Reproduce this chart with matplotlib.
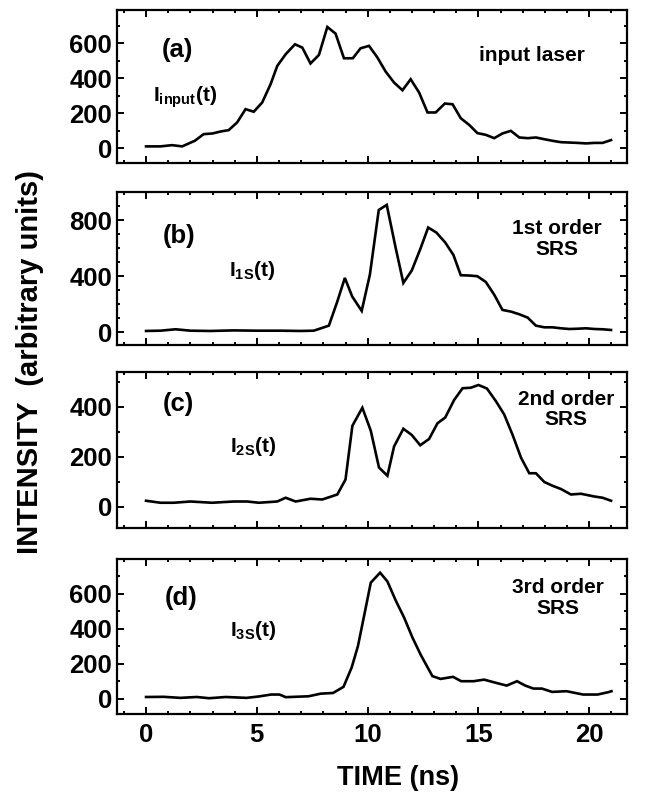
import matplotlib
matplotlib.use("Agg")
import matplotlib.pyplot as plt
from matplotlib.ticker import MultipleLocator

plt.rcParams['font.family'] = ['Liberation Sans', 'DejaVu Sans']
plt.rcParams['font.weight'] = 'bold'
plt.rcParams['mathtext.fontset'] = 'custom'
plt.rcParams['mathtext.rm'] = 'Liberation Sans:bold'
plt.rcParams['mathtext.it'] = 'Liberation Sans:bold'
plt.rcParams['mathtext.bf'] = 'Liberation Sans:bold'

# ---- data (time in ns, intensity in arbitrary units) ----
t_input = [0, 0.65, 1.17, 1.63, 2.2, 2.6, 3.0, 3.36, 3.73, 4.11, 4.49, 4.86, 5.24, 5.62, 5.92,
           6.3, 6.72, 7.05, 7.42, 7.8, 8.18, 8.55, 8.93, 9.33, 9.68, 10.06, 10.44, 10.81, 11.19,
           11.57, 11.94, 12.32, 12.7, 13.07, 13.48, 13.83, 14.2, 14.58, 14.95, 15.33, 15.71,
           16.08, 16.46, 16.84, 17.22, 17.59, 17.97, 18.34, 18.72, 19.1, 19.47, 19.85, 20.23,
           20.6, 20.98]
I_input = [10, 10, 17, 10, 42, 80, 84, 95, 103, 147, 223, 208, 261, 366, 470,
           537, 594, 575, 484, 533, 693, 655, 514, 514, 571, 585, 518, 438, 375,
           331, 394, 318, 204, 204, 255, 251, 171, 133, 86, 76, 57,
           84, 99, 61, 57, 61, 51, 42, 34, 32, 30, 27, 30,
           30, 46]

t_1s = [0, 0.65, 1.33, 2.0, 2.9, 3.96, 5.0, 6.07, 6.97, 7.57, 8.25, 8.63, 8.97, 9.3, 9.73,
        10.1, 10.5, 10.86, 11.26, 11.61, 11.99, 12.37, 12.73, 13.1, 13.5, 13.87, 14.2, 14.58,
        14.95, 15.33, 15.71, 16.08, 16.46, 16.84, 17.22, 17.59, 17.97, 18.34, 18.72, 19.1,
        19.47, 19.85, 20.23, 20.6, 20.98]
I_1s = [10, 12, 22, 12, 10, 14, 12, 12, 10, 12, 48, 220, 388, 256, 153,
        412, 872, 908, 604, 352, 441, 592, 747, 711, 640, 551, 407, 405,
        400, 359, 268, 160, 148, 129, 105, 48, 36, 36, 29, 24,
        26, 29, 24, 22, 17]

t_2s = [0, 0.65, 1.25, 2.0, 2.98, 3.96, 4.56, 5.09, 5.92, 6.3, 6.75, 7.42, 7.95, 8.63, 9.0,
        9.31, 9.76, 10.14, 10.51, 10.89, 11.19, 11.61, 11.99, 12.37, 12.77, 13.15, 13.5, 13.9,
        14.28, 14.65, 15.0, 15.38, 15.78, 16.16, 16.54, 16.92, 17.29, 17.59, 17.97, 18.34,
        18.72, 19.17, 19.62, 20.23, 20.6, 20.98]
I_2s = [25, 17, 17, 22, 17, 22, 22, 17, 22, 37, 22, 33, 30, 50, 110,
        325, 397, 305, 158, 125, 242, 313, 288, 247, 272, 335, 358, 428,
        475, 477, 488, 474, 424, 370, 288, 197, 135, 135, 100, 85,
        72, 50, 53, 42, 37, 25]

t_3s = [0, 0.8, 1.55, 2.29, 2.85, 3.6, 4.53, 5.09, 5.64, 6.02, 6.3, 7.33, 7.88, 8.44, 8.91,
        9.28, 9.56, 9.76, 10.14, 10.56, 10.89, 11.27, 11.64, 12.02, 12.4, 12.92, 13.29, 13.85,
        14.22, 14.78, 15.25, 15.9, 16.27, 16.74, 17.11, 17.48, 17.86, 18.32, 18.97, 19.72,
        20.37, 20.84, 21.0]
I_3s = [11, 12, 6, 11, 4, 11, 6, 14, 25, 25, 10, 15, 30, 34, 69,
        180, 301, 425, 663, 720, 670, 560, 465, 350, 250, 130, 114, 126,
        101, 101, 110, 88, 76, 101, 76, 59, 59, 40, 44, 25,
        25, 38, 44]

panel_tags = ["(a)", "(b)", "(c)", "(d)"]
panel_titles = ["input laser", "1st order\nSRS", "2nd order\nSRS", "3rd order\nSRS"]
trace_labels = [r"$\mathrm{I_{input}(t)}$", r"$\mathrm{I_{1S}(t)}$",
                r"$\mathrm{I_{2S}(t)}$", r"$\mathrm{I_{3S}(t)}$"]
x_ticks = [0, 5, 10, 15, 20]

series = [(t_input, I_input), (t_1s, I_1s), (t_2s, I_2s), (t_3s, I_3s)]

# layout / style
W, H = 649, 792
fig = plt.figure(figsize=(W / 100, H / 100), dpi=100)
left, right = 117 / W, 627 / W
boxes = [(10, 163), (192, 345), (372, 528), (559, 714)]
ylims = [(-85, 790), (-90, 1000), (-84, 540), (-86, 798)]
ymajor = [200, 400, 200, 200]
yminor = [100, 100, 100, 100]
tag_pos = [(1.4, 560), (1.5, 690), (1.45, 413), (1.6, 577)]
title_pos = [(17.4, 530), (18.55, 665), (18.95, 390), (18.6, 575)]
lab_pos = [(0.3, 290), (3.75, 440), (3.8, 240), (3.8, 390)]

for i, (tt, vv) in enumerate(series):
    top, bot = boxes[i]
    ax = fig.add_axes([left, 1 - bot / H, right - left, (bot - top) / H])
    ax.plot(tt, vv, color='black', lw=1.9, solid_joinstyle='miter')
    ax.set_xlim(-1.31, 21.7)
    ax.set_ylim(*ylims[i])
    ax.xaxis.set_major_locator(MultipleLocator(5))
    ax.xaxis.set_minor_locator(MultipleLocator(1))
    ax.yaxis.set_major_locator(MultipleLocator(ymajor[i]))
    ax.yaxis.set_minor_locator(MultipleLocator(yminor[i]))
    ax.tick_params(which='both', direction='in', top=True, right=True, width=1.4,
                   labelsize=18.5, pad=3.5)
    ax.tick_params(which='major', length=5)
    ax.tick_params(which='minor', length=2.2)
    for s in ax.spines.values():
        s.set_linewidth(1.6)
    if i < 3:
        ax.set_xticklabels([])
    else:
        ax.set_xticks(x_ticks)
        ax.tick_params(axis='x', pad=6.5)
    for lab in ax.get_yticklabels() + ax.get_xticklabels():
        lab.set_fontweight('bold')
    ax.text(*tag_pos[i], panel_tags[i], fontsize=18.5, fontweight='bold', ha='center', va='center')
    ax.text(*title_pos[i], panel_titles[i], fontsize=15, fontweight='bold', ha='center',
            va='center', linespacing=1.1)
    ax.text(*lab_pos[i], trace_labels[i], fontsize=15, ha='left', va='center')

fig.text(398 / W, 1 - 778 / H, "TIME (ns)", fontsize=19.5, fontweight='bold', ha='center', va='center')
fig.text(30 / W, 1 - 362 / H, "INTENSITY  (arbitrary units)", fontsize=21, fontweight='bold',
         ha='center', va='center', rotation=90)

fig.savefig("out.png", dpi=100, facecolor='white')
